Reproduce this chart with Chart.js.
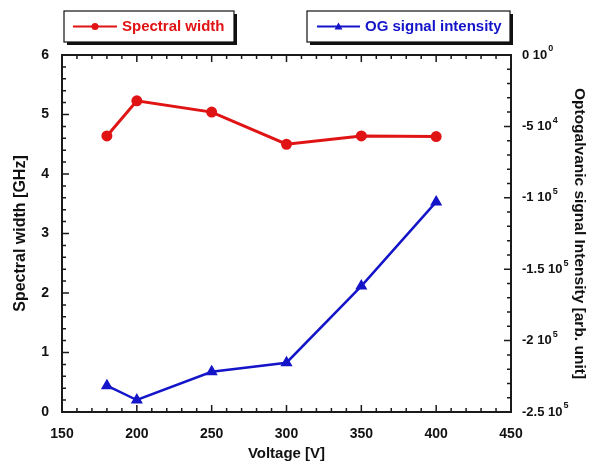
<!DOCTYPE html>
<html>
<head>
<meta charset="utf-8">
<script src="https://cdn.jsdelivr.net/npm/chart.js@4.4.0/dist/chart.umd.min.js"></script>
<style>
  html, body { margin: 0; padding: 0; background: #fff; }
  #wrap { width: 595px; height: 461px; }
</style>
</head>
<body>
<div id="wrap"><canvas id="chart" width="595" height="461"></canvas></div>
<script>
// data
const voltages = [180, 200, 250, 300, 350, 400];
const spectralWidth = [4.64, 5.23, 5.04, 4.50, 4.64, 4.63];
const ogSignal = [-231600, -241600, -221800, -215500, -161800, -102900];
// right axis labels, written as "mantissa 10^exp" (top to bottom)
const ogTickValues = [0, -50000, -100000, -150000, -200000, -250000];
const ogTickMantissa = ['0 10', '-5 10', '-1 10', '-1.5 10', '-2 10', '-2.5 10'];
const ogTickExp = ['0', '4', '5', '5', '5', '5'];

const FONT = '"Liberation Sans", Arial, sans-serif';
const RED = '#e01414';
const BLUE = '#1414c8';

// inward tick marks on all four sides (minor + major)
const boxTicks = {
    id: 'boxTicks',
    afterDraw(chart) {
        const { ctx, chartArea: a, scales } = chart;
        ctx.save();
        ctx.strokeStyle = '#1a1a1a';
        ctx.lineWidth = 1.5;
        const run = (scale, minor, major, fn) => {
            const n = Math.round((scale.max - scale.min) / minor);
            for (let i = 0; i <= n; i++) {
                const v = scale.min + i * minor;
                const isMajor = Math.abs(Math.round(v / major) * major - v) < minor / 100;
                fn(scale.getPixelForValue(v), isMajor ? 7 : 4);
            }
        };
        ctx.beginPath();
        run(scales.x, 10, 50, (p, len) => {
            ctx.moveTo(p, a.bottom); ctx.lineTo(p, a.bottom - len);
            ctx.moveTo(p, a.top); ctx.lineTo(p, a.top + len);
        });
        run(scales.y, 0.2, 1, (p, len) => {
            ctx.moveTo(a.left, p); ctx.lineTo(a.left + len, p);
        });
        run(scales.y2, 10000, 50000, (p, len) => {
            ctx.moveTo(a.right, p); ctx.lineTo(a.right - len, p);
        });
        ctx.stroke();
        ctx.lineWidth = 2;
        ctx.strokeRect(a.left, a.top, a.right - a.left, a.bottom - a.top);

        // right-axis labels with real superscript exponents
        ctx.fillStyle = '#111';
        ctx.textBaseline = 'middle';
        ogTickValues.forEach((v, i) => {
            const y = scales.y2.getPixelForValue(v);
            const x = a.right + 11;
            ctx.font = 'bold 13px ' + FONT;
            ctx.fillText(ogTickMantissa[i], x, y);
            const w = ctx.measureText(ogTickMantissa[i]).width;
            ctx.font = 'bold 9px ' + FONT;
            ctx.fillText(ogTickExp[i], x + w + 1, y - 6);
        });
        ctx.restore();
    }
};

// the two boxed legends with drop shadow
const boxLegends = {
    id: 'boxLegends',
    afterDraw(chart) {
        const ctx = chart.ctx;
        const items = [
            { x: 64, w: 170, color: RED, text: 'Spectral width', marker: 'circle', l0: 73, l1: 117 },
            { x: 307, w: 203, color: BLUE, text: 'OG signal intensity', marker: 'triangle', l0: 317, l1: 360 }
        ];
        const y = 11, h = 31;
        ctx.save();
        items.forEach(it => {
            ctx.fillStyle = '#111';
            ctx.fillRect(it.x + 3, y + 3, it.w, h);
            ctx.fillStyle = '#fff';
            ctx.fillRect(it.x, y, it.w, h);
            ctx.strokeStyle = '#111';
            ctx.lineWidth = 1.2;
            ctx.strokeRect(it.x, y, it.w, h);
            const cy = y + h / 2;
            ctx.strokeStyle = it.color;
            ctx.lineWidth = 2;
            ctx.beginPath();
            ctx.moveTo(it.l0, cy); ctx.lineTo(it.l1, cy);
            ctx.stroke();
            ctx.fillStyle = it.color;
            const mx = (it.l0 + it.l1) / 2;
            ctx.beginPath();
            if (it.marker === 'circle') {
                ctx.arc(mx, cy, 3.5, 0, Math.PI * 2);
            } else {
                ctx.moveTo(mx, cy - 4); ctx.lineTo(mx + 4, cy + 3); ctx.lineTo(mx - 4, cy + 3);
                ctx.closePath();
            }
            ctx.fill();
            ctx.font = 'bold 15px ' + FONT;
            ctx.textBaseline = 'middle';
            ctx.fillText(it.text, it.l1 + 5, cy);
        });
        ctx.restore();
    }
};

new Chart(document.getElementById('chart'), {
    type: 'line',
    data: {
        datasets: [{
            label: 'Spectral width',
            data: voltages.map((v, i) => ({ x: v, y: spectralWidth[i] })),
            borderColor: RED,
            backgroundColor: RED,
            borderWidth: 3,
            pointRadius: 4,
            pointStyle: 'circle',
            yAxisID: 'y'
        }, {
            label: 'OG signal intensity',
            data: voltages.map((v, i) => ({ x: v, y: ogSignal[i] })),
            borderColor: BLUE,
            backgroundColor: BLUE,
            borderWidth: 2.5,
            pointRadius: 4.5,
            pointStyle: 'triangle',
            yAxisID: 'y2'
        }]
    },
    options: {
        responsive: false,
        animation: false,
        layout: { padding: { top: 55, left: 0, right: 0, bottom: 0 } },
        plugins: { legend: { display: false }, tooltip: { enabled: false } },
        scales: {
            x: {
                type: 'linear', min: 150, max: 450,
                ticks: { stepSize: 50, padding: 14, color: '#111', font: { family: FONT, size: 14, weight: 'bold' } },
                grid: { display: false, drawTicks: false },
                border: { display: false },
                title: { display: true, text: 'Voltage [V]', color: '#111', padding: 0,
                         font: { family: FONT, size: 15, weight: 'bold', lineHeight: 1.0 } },
                afterFit(s) { s.height = 49; }
            },
            y: {
                position: 'left', min: 0, max: 6,
                ticks: { stepSize: 1, padding: 13, color: '#111', font: { family: FONT, size: 14, weight: 'bold' } },
                grid: { display: false, drawTicks: false },
                border: { display: false },
                title: { display: true, text: 'Spectral width [GHz]', color: '#111', padding: { top: 11, bottom: 0 },
                         font: { family: FONT, size: 16, weight: 'bold', lineHeight: 1.2 } },
                afterFit(s) { s.width = 62; }
            },
            y2: {
                position: 'right', min: -250000, max: 0,
                ticks: { display: false, stepSize: 50000 },
                grid: { display: false, drawTicks: false },
                border: { display: false },
                title: { display: true, text: 'Optogalvanic signal Intensity [arb. unit]', color: '#111', padding: { top: 6, bottom: 0 },
                         font: { family: FONT, size: 15.5, weight: 'bold', lineHeight: 1.2 } },
                afterFit(s) { s.width = 84; }
            }
        }
    },
    plugins: [boxTicks, boxLegends]
});
</script>
</body>
</html>
